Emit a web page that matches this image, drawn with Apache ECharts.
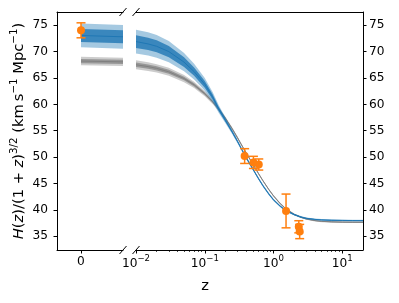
<!DOCTYPE html>
<html><head><meta charset="utf-8">
<script src="https://cdn.jsdelivr.net/npm/echarts@6/dist/echarts.min.js"></script>
<style>html,body{margin:0;padding:0;background:#fff}#c{width:399px;height:303px}</style>
</head><body><div id="c"></div>
<script>
// ---- model curves (right, log-z panel) ----
const zModel    = [0.01, 0.015, 0.02, 0.03, 0.05, 0.07, 0.1, 0.13, 0.16, 0.2, 0.25, 0.3, 0.35, 0.4, 0.5, 0.6, 0.7, 0.85, 1.0, 1.25, 1.5, 2, 2.5, 3, 4, 5, 7, 10, 14, 20];
const blueMid   = [71.9, 71.45, 71.0, 70.0, 68.0, 66.2, 63.8, 61.4, 59.1, 56.95, 54.8, 52.95, 51.3, 49.9, 47.75, 46.0, 44.6, 43.05, 41.9, 40.7, 39.9, 39.1, 38.65, 38.4, 38.2, 38.1, 38.03, 38.0, 37.98, 37.97];
const blueHalf2 = [2.25, 2.2, 2.15, 2.0, 1.75, 1.5, 1.2, 0.95, 0.75, 0.55, 0.42, 0.35, 0.3, 0.28, 0.26, 0.25, 0.24, 0.23, 0.22, 0.2, 0.19, 0.18, 0.17, 0.17, 0.16, 0.16, 0.16, 0.16, 0.16, 0.16];
const blueHalf1 = [1.2, 1.17, 1.14, 1.06, 0.93, 0.8, 0.64, 0.5, 0.4, 0.3, 0.23, 0.19, 0.16, 0.15, 0.14, 0.13, 0.13, 0.12, 0.12, 0.11, 0.1, 0.1, 0.09, 0.09, 0.08, 0.08, 0.08, 0.08, 0.08, 0.08];
const grayMid   = [67.5, 67.16, 66.82, 66.16, 64.89, 63.7, 62.03, 60.49, 59.07, 57.35, 55.4, 53.65, 52.1, 50.8, 48.7, 46.95, 45.55, 43.9, 42.65, 41.2, 40.25, 39.15, 38.6, 38.28, 37.97, 37.83, 37.73, 37.68, 37.66, 37.65];
const grayHalf2 = [0.85, 0.83, 0.8, 0.76, 0.68, 0.6, 0.5, 0.42, 0.36, 0.3, 0.26, 0.24, 0.22, 0.21, 0.2, 0.19, 0.18, 0.17, 0.17, 0.16, 0.16, 0.15, 0.15, 0.15, 0.15, 0.15, 0.15, 0.15, 0.15, 0.15];
const grayHalf1 = [0.42, 0.41, 0.4, 0.38, 0.34, 0.3, 0.25, 0.21, 0.18, 0.15, 0.13, 0.12, 0.11, 0.1, 0.1, 0.09, 0.09, 0.08, 0.08, 0.08, 0.08, 0.08, 0.08, 0.08, 0.08, 0.08, 0.08, 0.08, 0.08, 0.08];

// ---- model curves (left, z≈0 panel) ----
const zLeft         = [0, 0.0035];
const blueLeftMid   = [73.05, 72.8];
const blueLeftHalf2 = [2.25, 2.25];
const blueLeftHalf1 = [1.22, 1.22];
const grayLeftMid   = [68.2, 68.05];
const grayLeftHalf2 = [0.8, 0.8];
const grayLeftHalf1 = [0.4, 0.4];

// ---- observations ----
const zObsLeft = [0];
const hObsLeft = [74.03];
const eObsLeft = [1.42];
const zObs = [0.38, 0.51, 0.61, 1.52, 2.33, 2.40];
const hObs = [50.2, 49.0, 48.6, 39.8, 36.8, 35.9];
const eObs = [1.4, 1.15, 1.05, 3.2, 1.15, 1.35];

// ---- axes ----
const xLeftRange  = [-0.002, 0.0035];
const xRightRange = [0.01, 20];
const yRange      = [32.4, 77.5];
const yTicks      = [35, 40, 45, 50, 55, 60, 65, 70, 75];
const xLeftTicks  = [0];
const xRightTicks = [0.01, 0.1, 1, 10];
const xRightMinor = [0.02,0.03,0.04,0.05,0.06,0.07,0.08,0.09,0.2,0.3,0.4,0.5,0.6,0.7,0.8,0.9,2,3,4,5,6,7,8,9];

const FONT = '"DejaVu Sans", sans-serif';
const C0 = '#1f77b4', C1 = '#ff7f0e';

function band(xi, yi, zs, mid, half, color, z) {
  return {
    type: 'custom', xAxisIndex: xi, yAxisIndex: yi, z: z, silent: true,
    data: [[zs[0], mid[0]]],
    encode: {x: 0, y: 1},
    renderItem: function (params, api) {
      const pts = [];
      for (let i = 0; i < zs.length; i++) pts.push(api.coord([zs[i], mid[i] + half[i]]));
      for (let i = zs.length - 1; i >= 0; i--) pts.push(api.coord([zs[i], mid[i] - half[i]]));
      return {type: 'polygon', shape: {points: pts}, style: {fill: color, stroke: null}};
    }
  };
}
function line(xi, yi, zs, mid, color, z) {
  return {
    type: 'line', xAxisIndex: xi, yAxisIndex: yi, z: z, silent: true,
    data: zs.map((v, i) => [v, mid[i]]), showSymbol: false, symbol: 'none',
    lineStyle: {color: color, width: 1}, animation: false
  };
}
function errbars(xi, yi, zs, hs, es) {
  return {
    type: 'custom', xAxisIndex: xi, yAxisIndex: yi, z: 6, silent: true,
    data: zs.map((v, i) => [v, hs[i], es[i]]),
    encode: {x: 0, y: 1},
    renderItem: function (params, api) {
      const x = api.value(0), y = api.value(1), e = api.value(2);
      const t = api.coord([x, y + e]), b = api.coord([x, y - e]);
      const cw = 4.5, st = {stroke: C1, lineWidth: 1.5};
      return {type: 'group', children: [
        {type: 'line', shape: {x1: t[0], y1: t[1], x2: b[0], y2: b[1]}, style: st},
        {type: 'line', shape: {x1: t[0] - cw, y1: t[1], x2: t[0] + cw, y2: t[1]}, style: st},
        {type: 'line', shape: {x1: b[0] - cw, y1: b[1], x2: b[0] + cw, y2: b[1]}, style: st}
      ]};
    }
  };
}
function points(xi, yi, zs, hs) {
  return {
    type: 'scatter', xAxisIndex: xi, yAxisIndex: yi, z: 7, silent: true,
    data: zs.map((v, i) => [v, hs[i]]), symbol: 'circle', symbolSize: 8,
    itemStyle: {color: C1, opacity: 1}
  };
}
function breaks(xi, yi, xv) {
  return {
    type: 'custom', xAxisIndex: xi, yAxisIndex: yi, z: 10, silent: true,
    data: [[xv, yRange[0]]], encode: {x: 0, y: 1},
    renderItem: function (params, api) {
      const a = api.coord([xv, yRange[1]]), b = api.coord([xv, yRange[0]]);
      const st = {stroke: '#000', lineWidth: 1};
      const mk = p => ({type: 'line', shape: {x1: p[0] - 3.5, y1: p[1] + 4, x2: p[0] + 3.5, y2: p[1] - 4}, style: st});
      return {type: 'group', children: [mk(a), mk(b)]};
    }
  };
}

const axLine = {show: true, onZero: false, lineStyle: {color: '#000', width: 1}};
const tickSt = {lineStyle: {color: '#000', width: 1}, length: 3.5};
const lblSt = {color: '#000', fontFamily: FONT, fontSize: 12.2};

const option = {
  animation: false,
  backgroundColor: '#fff',
  grid: [
    {left: 57, top: 12, width: 66, height: 238},
    {left: 136, top: 12, width: 227, height: 238}
  ],
  xAxis: [
    {gridIndex: 0, type: 'value', position: 'bottom', min: xLeftRange[0], max: xLeftRange[1],
     axisLine: axLine, splitLine: {show: false},
     axisTick: Object.assign({customValues: xLeftTicks}, tickSt),
     axisLabel: Object.assign({customValues: xLeftTicks, margin: 6, formatter: v => String(Math.round(v))}, lblSt)},
    {gridIndex: 0, type: 'value', position: 'top', min: xLeftRange[0], max: xLeftRange[1],
     axisLine: axLine, splitLine: {show: false}, axisTick: {show: false}, axisLabel: {show: false}},
    {gridIndex: 1, type: 'log', logBase: 10, position: 'bottom', min: xRightRange[0], max: xRightRange[1],
     axisLine: axLine, splitLine: {show: false}, minorTick: {show: false},
     axisTick: Object.assign({customValues: xRightTicks}, tickSt),
     axisLabel: Object.assign({customValues: xRightTicks, margin: 4,
       formatter: v => { const e = Math.round(Math.log10(v)); return '{b|10}{s|' + (e < 0 ? '\u2212' : '') + Math.abs(e) + '}'; },
       rich: {b: {fontFamily: FONT, fontSize: 12.2, lineHeight: 20, color: '#000'},
              s: {fontFamily: FONT, fontSize: 8.6, lineHeight: 10, verticalAlign: 'top', color: '#000'}}}, lblSt)},
    {gridIndex: 1, type: 'log', logBase: 10, position: 'top', min: xRightRange[0], max: xRightRange[1],
     axisLine: axLine, splitLine: {show: false}, axisTick: {show: false}, axisLabel: {show: false}},
    {gridIndex: 1, type: 'log', logBase: 10, position: 'bottom', min: xRightRange[0], max: xRightRange[1],
     axisLine: {show: false}, splitLine: {show: false},
     axisTick: {customValues: xRightMinor, length: 2, lineStyle: {color: '#000', width: 0.7}}, axisLabel: {show: false}}
  ],
  yAxis: [
    {gridIndex: 0, type: 'value', position: 'left', min: yRange[0], max: yRange[1],
     axisLine: axLine, splitLine: {show: false},
     axisTick: Object.assign({customValues: yTicks}, tickSt),
     axisLabel: Object.assign({customValues: yTicks, margin: 9}, lblSt),
     name: '{i|H}{r|(}{i|z}{r|)/(1 + }{i|z}{r|)}{s|3/2}{r| (km\u2009s}{s|\u22121}{r| Mpc}{s|\u22121}{r|)}',
     nameLocation: 'middle', nameGap: 28, nameRotate: 90,
     nameTextStyle: {fontFamily: FONT, fontSize: 14.7, color: '#000',
       rich: {r: {fontFamily: FONT, fontSize: 14.7, lineHeight: 20, color: '#000'},
              i: {fontFamily: FONT, fontSize: 14.7, fontStyle: 'italic', lineHeight: 20, color: '#000'},
              s: {fontFamily: FONT, fontSize: 10.3, lineHeight: 12, verticalAlign: 'top', color: '#000'}}}},
    {gridIndex: 1, type: 'value', position: 'right', min: yRange[0], max: yRange[1],
     axisLine: axLine, splitLine: {show: false},
     axisTick: Object.assign({customValues: yTicks}, tickSt),
     axisLabel: Object.assign({customValues: yTicks, margin: 6}, lblSt)}
  ],
  graphic: [{type: 'text', x: 205, y: 286, silent: true,
    style: {text: 'z', font: '14.7px "DejaVu Sans"', align: 'center', verticalAlign: 'middle', fill: '#000'}}],
  series: [
    // left panel
    band(0, 0, zLeft, grayLeftMid, grayLeftHalf2, 'rgba(128,128,128,0.4)', 1),
    band(0, 0, zLeft, grayLeftMid, grayLeftHalf1, 'rgba(128,128,128,0.7)', 1),
    line(0, 0, zLeft, grayLeftMid, '#808080', 2),
    band(0, 0, zLeft, blueLeftMid, blueLeftHalf2, 'rgba(31,119,180,0.4)', 3),
    band(0, 0, zLeft, blueLeftMid, blueLeftHalf1, 'rgba(31,119,180,0.8)', 3),
    line(0, 0, zLeft, blueLeftMid, C0, 4),
    errbars(0, 0, zObsLeft, hObsLeft, eObsLeft),
    points(0, 0, zObsLeft, hObsLeft),
    breaks(0, 0, xLeftRange[1]),
    // right panel
    band(2, 1, zModel, grayMid, grayHalf2, 'rgba(128,128,128,0.4)', 1),
    band(2, 1, zModel, grayMid, grayHalf1, 'rgba(128,128,128,0.7)', 1),
    line(2, 1, zModel, grayMid, '#808080', 2),
    band(2, 1, zModel, blueMid, blueHalf2, 'rgba(31,119,180,0.4)', 3),
    band(2, 1, zModel, blueMid, blueHalf1, 'rgba(31,119,180,0.8)', 3),
    line(2, 1, zModel, blueMid, C0, 4),
    errbars(2, 1, zObs, hObs, eObs),
    points(2, 1, zObs, hObs),
    breaks(2, 1, xRightRange[0])
  ]
};
const chart = echarts.init(document.getElementById('c'), null, {renderer: 'canvas'});
chart.setOption(option);
</script>
</body></html>
